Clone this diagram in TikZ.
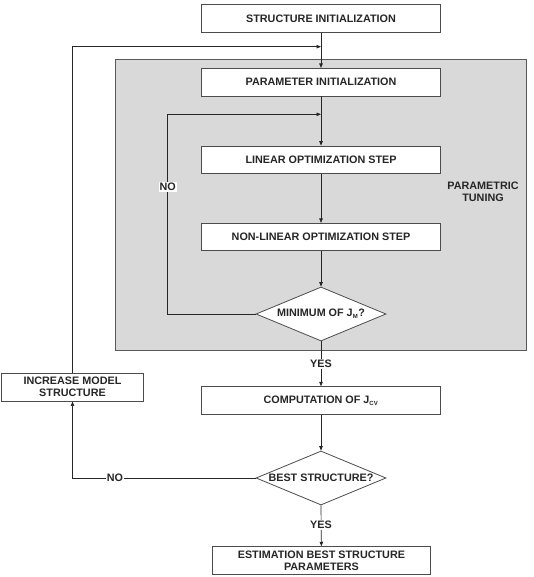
\documentclass[tikz,border=0pt]{standalone}
\usepackage{fontspec}
\setmainfont{Liberation Sans}
\usetikzlibrary{shapes.geometric,arrows.meta}
\begin{document}
\begin{tikzpicture}[x=1pt,y=1pt,
  font=\fontsize{10.8}{12}\selectfont\bfseries,
  txt/.style={text=black!85},
  box/.style={draw=black!70,fill=white,line width=0.8pt,inner sep=0pt,txt,align=center},
  dia/.style={shape=diamond,shape aspect=2.4,draw=black!70,fill=white,line width=0.8pt,inner sep=0pt,txt,minimum width=130pt,minimum height=54pt},
  arr/.style={draw=black!85,line width=0.7pt,-{Triangle[length=4.5pt,width=3.5pt]}},
  ln/.style={draw=black!85,line width=0.7pt},
  lbl/.style={fill=white,inner sep=1pt,txt}]
\useasboundingbox (0,0) rectangle (533,-577);
% gray region
\path[fill=black!15,draw=black!65,line width=0.8pt] (115,-59.3) rectangle (526.7,-350.5);
\node[txt,align=center] (pt) at (483,-191.7) {PARAMETRIC\\TUNING};
% nodes
\node[box,minimum width=238.6pt,minimum height=27.6pt] (s1) at (321,-18.5) {STRUCTURE INITIALIZATION};
\node[box,minimum width=238.6pt,minimum height=27.7pt] (p1) at (321,-82.2) {PARAMETER INITIALIZATION};
\node[box,minimum width=238.6pt,minimum height=27.3pt] (lin) at (321,-159.7) {LINEAR OPTIMIZATION STEP};
\node[box,minimum width=238.6pt,minimum height=27.4pt] (nl) at (321,-237) {NON-LINEAR OPTIMIZATION STEP};
\node[dia] (d1) at (321,-314) {MINIMUM OF J\textsubscript{\fontsize{6}{6}\selectfont M}?};
\node[box,minimum width=238.3pt,minimum height=27.6pt] (comp) at (321,-400.5) {COMPUTATION OF J\textsubscript{\fontsize{6}{6}\selectfont CV}};
\node[dia] (d2) at (321,-478) {BEST STRUCTURE?};
\node[box,minimum width=217.3pt,minimum height=27.3pt] (est) at (321.4,-560.3) {ESTIMATION BEST STRUCTURE\\PARAMETERS};
\node[box,minimum width=141.6pt,minimum height=27.7pt] (inc) at (72.5,-387.2) {INCREASE MODEL\\STRUCTURE};
% junctions
\coordinate (j1) at (321,-46.7);
\coordinate (j2) at (321,-114.3);
\coordinate (c1) at (167.7,-314);
\coordinate (c2) at (72.5,-478);
% connectors
\draw[arr] (s1.south) -- (p1.north);
\draw[arr] (inc.north) |- (j1);
\draw[arr] (p1.south) -- (lin.north);
\draw[arr] (d1.west) -- (c1) |- (j2);
\node[lbl] (no1) at (167.7,-187) {NO};
\draw[arr] (lin.south) -- (nl.north);
\draw[arr] (nl.south) -- (d1.north);
\draw[arr] (d1.south) -- (comp.north);
\node[lbl] (yes1) at (321,-364) {YES};
\draw[arr] (comp.south) -- (d2.north);
\draw[arr] (d2.west) -- (c2) -- (inc.south);
\node[lbl] (no2) at (115,-477.5) {NO};
\draw[arr] (d2.south) -- (est.north);
\node[lbl] (yes2) at (321,-525) {YES};
\end{tikzpicture}
\end{document}
